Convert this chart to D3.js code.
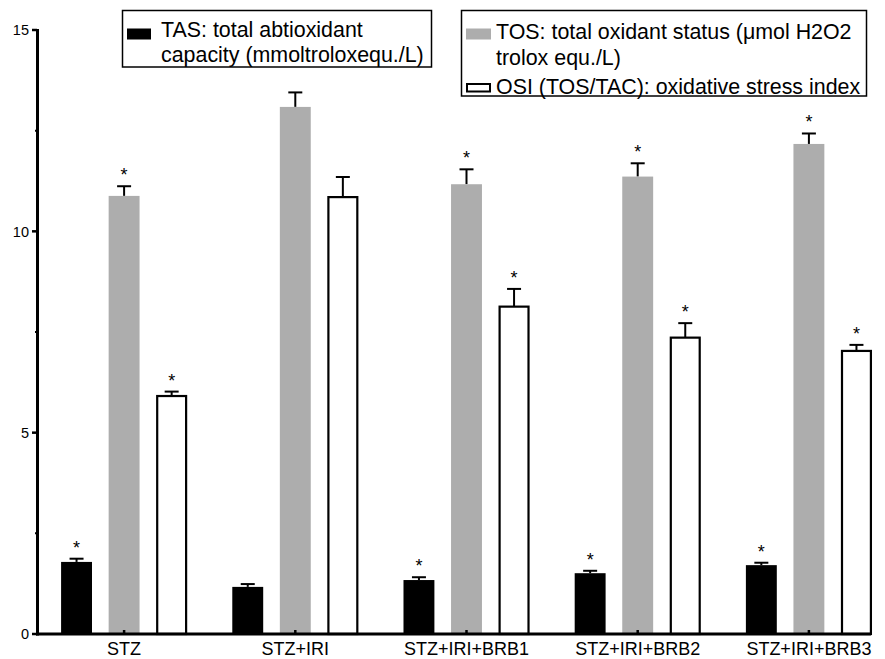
<!DOCTYPE html>
<html lang="en">
  <head>
    <meta charset="UTF-8" />
    <title>TAS / TOS / OSI bar chart</title>
    <script src="https://d3js.org/d3.v7.min.js"></script>
    <style>
      body { margin: 0; background: #fff; }
      text { font-family: "Liberation Sans", Arial, Helvetica, sans-serif; fill: #000; }
    </style>
  </head>
  <body>
    <svg width="885" height="659"></svg>

    <script>
      // groups on the x axis
      var groups = ["STZ", "STZ+IRI", "STZ+IRI+BRB1", "STZ+IRI+BRB2", "STZ+IRI+BRB3"];
      var series = ["TAS", "TOS", "OSI"];

      // means
      var tasValues = [1.79, 1.17, 1.34, 1.51, 1.71];
      var tosValues = [10.88, 13.09, 11.17, 11.36, 12.17];
      var osiValues = [5.91, 10.85, 8.13, 7.36, 7.03];

      // error bar heights (upper only)
      var tasErrors = [0.08, 0.07, 0.07, 0.06, 0.06];
      var tosErrors = [0.24, 0.36, 0.37, 0.33, 0.26];
      var osiErrors = [0.11, 0.5, 0.44, 0.36, 0.15];

      // which groups carry a * mark
      var significant = [true, false, true, true, true];

      var yTicks = [0, 5, 10, 15];
      var yMinorTicks = [2.5, 7.5, 12.5];

      var svg = d3.select("svg");

      var y = d3.scaleLinear().domain([0, 15]).range([634, 30]);
      var x0 = d3.scaleBand().domain(groups).range([38.5, 894.5]);
      var x1 = d3
        .scaleBand()
        .domain(series)
        .range([0, x0.bandwidth()])
        .paddingInner(0.35)
        .paddingOuter(0.475);

      var valuesBySeries = { TAS: tasValues, TOS: tosValues, OSI: osiValues };
      var errorsBySeries = { TAS: tasErrors, TOS: tosErrors, OSI: osiErrors };
      var fills = { TAS: "#000", TOS: "#adadad", OSI: "#fff" };

      // flatten into one row per bar
      var bars = [];
      groups.forEach(function (g, i) {
        series.forEach(function (s) {
          bars.push({
            group: g,
            series: s,
            value: valuesBySeries[s][i],
            err: errorsBySeries[s][i],
            star: significant[i]
          });
        });
      });

      var barX = function (d) { return x0(d.group) + x1(d.series); };
      var barMid = function (d) { return barX(d) + x1.bandwidth() / 2; };

      // error bars first so the bar covers the stem
      var errG = svg.append("g").attr("stroke", "#000").attr("stroke-width", 2);
      errG
        .selectAll("line.stem")
        .data(bars)
        .enter()
        .append("line")
        .attr("class", "stem")
        .attr("x1", barMid)
        .attr("x2", barMid)
        .attr("y1", function (d) { return y(d.value); })
        .attr("y2", function (d) { return y(d.value + d.err); });
      errG
        .selectAll("line.cap")
        .data(bars)
        .enter()
        .append("line")
        .attr("class", "cap")
        .attr("x1", function (d) { return barMid(d) - 7; })
        .attr("x2", function (d) { return barMid(d) + 7; })
        .attr("y1", function (d) { return y(d.value + d.err); })
        .attr("y2", function (d) { return y(d.value + d.err); });

      // bars
      svg
        .append("g")
        .selectAll("rect")
        .data(bars)
        .enter()
        .append("rect")
        .attr("x", function (d) { return d.series === "OSI" ? barX(d) + 1 : barX(d); })
        .attr("width", function (d) { return d.series === "OSI" ? x1.bandwidth() - 2 : x1.bandwidth(); })
        .attr("y", function (d) { return y(d.value); })
        .attr("height", function (d) { return y(0) - y(d.value); })
        .attr("fill", function (d) { return fills[d.series]; })
        .attr("stroke", function (d) { return d.series === "OSI" ? "#000" : "none"; })
        .attr("stroke-width", 2.2);

      // significance marks
      svg
        .append("g")
        .selectAll("text")
        .data(bars.filter(function (d) { return d.star; }))
        .enter()
        .append("text")
        .attr("x", barMid)
        .attr("y", function (d) { return y(d.value + d.err) - 5; })
        .attr("text-anchor", "middle")
        .style("font-size", "18px")
        .text("*");

      // y axis
      var yAxis = svg.append("g").attr("stroke", "#000");
      yAxis
        .append("line")
        .attr("x1", 37.5)
        .attr("x2", 37.5)
        .attr("y1", y(15) - 1)
        .attr("y2", y(0) + 1.5)
        .attr("stroke-width", 3);
      yAxis
        .selectAll("line.major")
        .data(yTicks)
        .enter()
        .append("line")
        .attr("class", "major")
        .attr("x1", 32)
        .attr("x2", 37)
        .attr("y1", function (d) { return y(d); })
        .attr("y2", function (d) { return y(d); })
        .attr("stroke-width", 2.5);
      yAxis
        .selectAll("line.minor")
        .data(yMinorTicks)
        .enter()
        .append("line")
        .attr("class", "minor")
        .attr("x1", 35)
        .attr("x2", 37)
        .attr("y1", function (d) { return y(d); })
        .attr("y2", function (d) { return y(d); })
        .attr("stroke-width", 2);
      svg
        .append("g")
        .selectAll("text")
        .data(yTicks)
        .enter()
        .append("text")
        .attr("x", 29)
        .attr("y", function (d) { return y(d); })
        .attr("dy", "0.36em")
        .attr("text-anchor", "end")
        .style("font-size", "14.5px")
        .text(function (d) { return d; });

      // x axis
      var lastBar = x0(groups[groups.length - 1]) + x1("OSI") + x1.bandwidth();
      svg
        .append("line")
        .attr("x1", 36)
        .attr("x2", lastBar - 1)
        .attr("y1", y(0))
        .attr("y2", y(0))
        .attr("stroke", "#000")
        .attr("stroke-width", 3);
      svg
        .append("g")
        .selectAll("line")
        .data(groups)
        .enter()
        .append("line")
        .attr("x1", function (d) { return x0(d) + x0.bandwidth() / 2; })
        .attr("x2", function (d) { return x0(d) + x0.bandwidth() / 2; })
        .attr("y1", y(0))
        .attr("y2", y(0) - 4)
        .attr("stroke", "#000")
        .attr("stroke-width", 2.5);
      svg
        .append("g")
        .selectAll("text")
        .data(groups)
        .enter()
        .append("text")
        .attr("x", function (d) { return x0(d) + x0.bandwidth() / 2; })
        .attr("y", 655)
        .attr("text-anchor", "middle")
        .style("font-size", "18px")
        .text(function (d) { return d; });

      // legend boxes
      var legendFont = "21.4px";

      var leg1 = svg.append("g");
      leg1
        .append("rect")
        .attr("x", 122.5)
        .attr("y", 10.5)
        .attr("width", 309)
        .attr("height", 56.5)
        .attr("fill", "#fff")
        .attr("stroke", "#000")
        .attr("stroke-width", 1.5);
      leg1
        .append("rect")
        .attr("x", 127)
        .attr("y", 28.5)
        .attr("width", 24)
        .attr("height", 11)
        .attr("fill", fills.TAS);
      leg1
        .selectAll("text")
        .data(["TAS: total abtioxidant", "capacity (mmoltroloxequ./L)"])
        .enter()
        .append("text")
        .attr("x", 161)
        .attr("y", function (d, i) { return 37 + i * 25; })
        .style("font-size", legendFont)
        .text(function (d) { return d; });

      var leg2 = svg.append("g");
      leg2
        .append("rect")
        .attr("x", 461.5)
        .attr("y", 10.5)
        .attr("width", 405)
        .attr("height", 85.5)
        .attr("fill", "#fff")
        .attr("stroke", "#000")
        .attr("stroke-width", 1.5);
      leg2
        .append("rect")
        .attr("x", 466)
        .attr("y", 28.5)
        .attr("width", 25)
        .attr("height", 11)
        .attr("fill", fills.TOS);
      leg2
        .append("rect")
        .attr("x", 467)
        .attr("y", 84)
        .attr("width", 23)
        .attr("height", 7.5)
        .attr("fill", fills.OSI)
        .attr("stroke", "#000")
        .attr("stroke-width", 2);
      leg2
        .selectAll("text")
        .data([
          { t: "TOS: total oxidant status (\u03bcmol H2O2", y: 39 },
          { t: "trolox equ./L)", y: 65 },
          { t: "OSI (TOS/TAC): oxidative stress index", y: 94 }
        ])
        .enter()
        .append("text")
        .attr("x", 496)
        .attr("y", function (d) { return d.y; })
        .style("font-size", legendFont)
        .text(function (d) { return d.t; });
    </script>
  </body>
</html>
